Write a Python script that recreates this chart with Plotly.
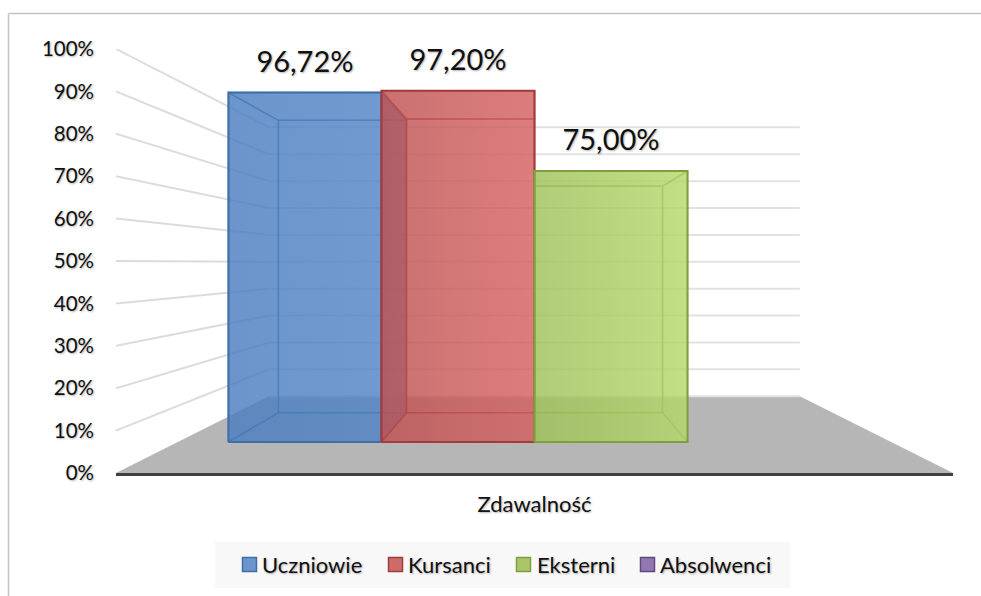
import plotly.graph_objects as go

categories = ["Zdawalność"]
series_names = ["Uczniowie", "Kursanci", "Eksterni", "Absolwenci"]
uczniowie = [96.72]
kursanci = [97.20]
eksterni = [75.00]
absolwenci = [None]
value_labels = ["96,72%", "97,20%", "75,00%", ""]
y_ticks = [0, 10, 20, 30, 40, 50, 60, 70, 80, 90, 100]
y_tick_labels = ["0%", "10%", "20%", "30%", "40%", "50%", "60%", "70%", "80%", "90%", "100%"]

FONT = "Lato, Carlito, Calibri, sans-serif"
SHADOW = "1px 1px 2px rgba(0,0,0,0.30)"
# perspective camera (front-plane data units)
VX, VY = 0.5, 49.5
S_WALL, S_FRONT, S_BACK = 0.634, 0.852, 0.713
BAR_W = 0.2146
# plot area in pixels
L, R, T, B = 116, 953, 49, 473
fills = ["rgba(75,128,193,0.58)", "rgba(200,86,86,0.58)", "rgba(169,203,97,0.58)", "rgba(128,100,162,0.58)"]
grad_lo = ["rgba(72,124,190,0.56)", "rgba(186,78,78,0.56)", "rgba(152,190,84,0.56)", "rgba(128,100,162,0.56)"]
grad_hi = ["rgba(82,134,198,0.56)", "rgba(218,100,100,0.56)", "rgba(186,220,112,0.56)", "rgba(128,100,162,0.56)"]
edges = ["#3f6da8", "#a23b3b", "#7f9f3f", "#5f4a7d"]
inner = ["rgba(63,109,168,0.55)", "rgba(170,60,60,0.55)", "rgba(135,170,70,0.55)", "rgba(95,74,125,0.55)"]
legend_fill = ["#6b96cc", "#cd6a6a", "#a9c66b", "#9278b0"]
legend_swatch_x = [242, 388, 516, 640]
legend_text_x = [262, 408, 537, 660]


def proj(x, v, s):
    return VX + (x - VX) * s, VY + (v - VY) * s


def px(x):
    return (x - L) / (R - L)


def py(y):
    return (B - y) / (B - T)


fig = go.Figure()


def poly(pts, fill=None, line=None, width=0, gradient=None):
    xs = [p[0] for p in pts] + [pts[0][0]]
    ys = [p[1] for p in pts] + [pts[0][1]]
    kw = dict(fillcolor=fill) if gradient is None else dict(fillgradient=gradient)
    fig.add_trace(go.Scatter(x=xs, y=ys, mode="lines", fill="toself",
                             line=dict(color=line or "rgba(0,0,0,0)", width=width),
                             showlegend=False, hoverinfo="skip", **kw))


def seg(a, b, color, width):
    fig.add_trace(go.Scatter(x=[a[0], b[0]], y=[a[1], b[1]], mode="lines",
                             line=dict(color=color, width=width),
                             showlegend=False, hoverinfo="skip"))


# floor
poly([proj(0, 0, 1), proj(1, 0, 1), proj(1, 0, S_WALL), proj(0, 0, S_WALL)], fill="#b6b6b6")
# walls' gridlines
for t in y_ticks:
    if t > 0:
        seg(proj(0, t, 1), proj(0, t, S_WALL), "#dcdcdc", 2)
    seg(proj(0, t, S_WALL), proj(1, t, S_WALL), "#e2e2e2", 2)

values = [uczniowie[0], kursanci[0], eksterni[0], absolwenci[0]]
for i, v in enumerate(values):
    if v is None:
        continue
    x0 = VX - 2 * BAR_W + i * BAR_W
    x1 = x0 + BAR_W
    fa = proj(x0, 0, S_FRONT); fb = proj(x1, 0, S_FRONT)
    fc = proj(x1, v, S_FRONT); fd = proj(x0, v, S_FRONT)
    ba = proj(x0, 0, S_BACK); bb = proj(x1, 0, S_BACK)
    bc = proj(x1, v, S_BACK); bd = proj(x0, v, S_BACK)
    poly([ba, bb, bc, bd], fill=fills[i], line=inner[i], width=1.5)   # back
    poly([fa, ba, bd, fd], fill=fills[i], line=inner[i], width=1.5)   # left
    poly([fb, bb, bc, fc], fill=fills[i], line=inner[i], width=1.5)   # right
    poly([fa, fb, bb, ba], fill=fills[i], line=inner[i], width=1.5)   # bottom
    poly([fd, fc, bc, bd], fill=fills[i], line=inner[i], width=1.5)   # top
    poly([fa, fb, fc, fd], line=edges[i], width=2,
         gradient=dict(type="horizontal", colorscale=[[0, grad_lo[i]], [1, grad_hi[i]]]))  # front
    fig.add_trace(go.Scatter(x=[(fa[0] + fb[0]) / 2], y=[fd[1] + 6.6], mode="text",
                             text=[value_labels[i]], textposition="middle center",
                             textfont=dict(family=FONT, size=29, color="#111111", shadow=SHADOW),
                             showlegend=False, hoverinfo="skip"))

shapes = [
    dict(type="line", xref="paper", yref="paper", x0=px(8.5), x1=px(8.5), y0=py(596), y1=py(13.5),
         line=dict(color="#c4c4c4", width=1.5)),
    dict(type="line", xref="paper", yref="paper", x0=px(8.5), x1=px(981), y0=py(13.5), y1=py(13.5),
         line=dict(color="#c4c4c4", width=1.5)),
    dict(type="rect", xref="paper", yref="paper", x0=px(215), x1=px(790), y0=py(588), y1=py(542),
         fillcolor="#f8f8f8", line=dict(width=0)),
]
annotations = []
for i, name in enumerate(series_names):
    sx = legend_swatch_x[i]
    shapes.append(dict(type="rect", xref="paper", yref="paper", x0=px(sx + 0.5), x1=px(sx + 14.5),
                       y0=py(571.5), y1=py(557.5), fillcolor=legend_fill[i],
                       line=dict(color=edges[i], width=1.5)))
    annotations.append(dict(text=name, xref="paper", yref="paper", x=px(legend_text_x[i]), y=py(564.5),
                            xanchor="left", yanchor="middle", showarrow=False, xshift=-2,
                            font=dict(family=FONT, size=22, color="#111111", shadow=SHADOW)))

fig.update_layout(
    width=981, height=596, autosize=False, showlegend=False,
    margin=dict(l=L, r=981 - R, t=T, b=596 - B),
    paper_bgcolor="white", plot_bgcolor="white",
    font=dict(family=FONT, color="#111111"),
    xaxis=dict(range=[0, 1], tickvals=[0.5], ticktext=categories, showgrid=False, zeroline=False,
               showline=True, linecolor="#404040", linewidth=3, ticks="", ticklabelstandoff=10,
               tickfont=dict(family=FONT, size=22, color="#111111", shadow=SHADOW)),
    yaxis=dict(range=[0, 100], tickvals=y_ticks, ticktext=y_tick_labels, showgrid=False, zeroline=False,
               showline=False, ticks="", ticklabelstandoff=21,
               tickfont=dict(family=FONT, size=20.5, color="#111111", shadow=SHADOW)),
    shapes=shapes,
    annotations=annotations,
)
fig.write_html("out.html", config=dict(displayModeBar=False),
               post_script="document.body.style.margin='0';")
